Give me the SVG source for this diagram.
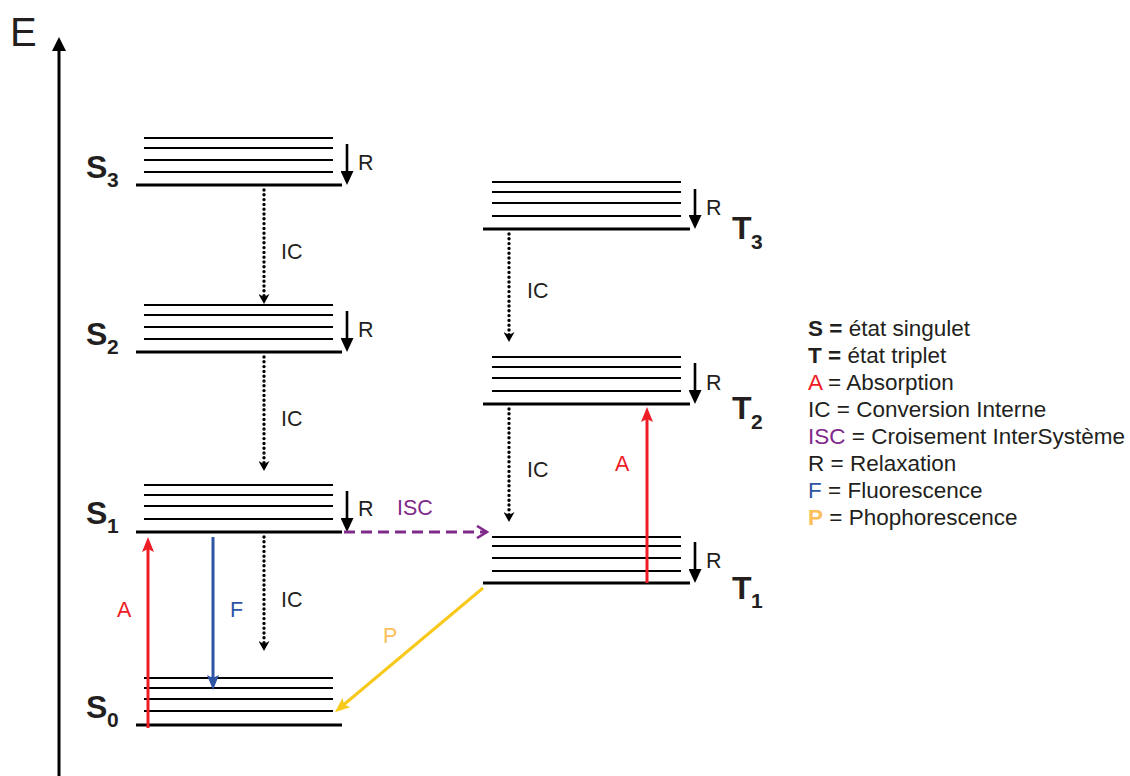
<svg xmlns="http://www.w3.org/2000/svg" width="1130" height="776" viewBox="0 0 1130 776">
<style>
text{font-family:"Liberation Sans",Arial,sans-serif;fill:#231f20}
.thin{stroke:#000;stroke-width:2}
.thick{stroke:#000;stroke-width:3.2}
.lbl{font-size:32px;font-weight:bold}
.sub{font-size:21px;font-weight:bold}
.t{font-size:21.5px}
.leg{font-size:22.5px}
.r{stroke:#000;stroke-width:2.6}
.ic{stroke:#000;stroke-width:3.4;stroke-dasharray:0 4.8;stroke-linecap:round;fill:none}
</style>
<defs>
<marker id="mR" markerUnits="userSpaceOnUse" viewBox="0 0 14 13" refX="4" refY="6.5" markerWidth="14" markerHeight="13" orient="auto"><path d="M0,0 L14,6.5 L0,13 z" fill="#000"/></marker>
<marker id="mAx" markerUnits="userSpaceOnUse" viewBox="0 0 14 14" refX="2" refY="7" markerWidth="14" markerHeight="14" orient="auto"><path d="M0,0 L14,7 L0,14 z" fill="#000"/></marker>
<marker id="mIC" markerUnits="userSpaceOnUse" viewBox="0 0 10 11" refX="3" refY="5.5" markerWidth="10" markerHeight="11" orient="auto"><path d="M0,0 L10,5.5 L0,11 L3,5.5 z" fill="#000"/></marker>
<marker id="mA" markerUnits="userSpaceOnUse" viewBox="0 0 15 12" refX="7" refY="6" markerWidth="15" markerHeight="12" orient="auto"><path d="M0,0 L15,6 L0,12 L3,6 z" fill="#ee1c25"/></marker>
<marker id="mF" markerUnits="userSpaceOnUse" viewBox="0 0 15 12" refX="7" refY="6" markerWidth="15" markerHeight="12" orient="auto"><path d="M0,0 L15,6 L0,12 L3,6 z" fill="#2e55a4"/></marker>
<marker id="mP" markerUnits="userSpaceOnUse" viewBox="0 0 15 12" refX="7" refY="6" markerWidth="15" markerHeight="12" orient="auto"><path d="M0,0 L15,6 L0,12 L3,6 z" fill="#f8c91c"/></marker>
<marker id="mISC" markerUnits="userSpaceOnUse" viewBox="-1 -1 13 14" refX="10" refY="6" markerWidth="13" markerHeight="14" orient="auto"><path d="M0,0 L10,6 L0,12" fill="none" stroke="#7f2a8a" stroke-width="2.6"/></marker>
</defs>

<g id="axis">
<text x="10" y="46" style="font-size:40px">E</text>
<line x1="59" y1="776" x2="59" y2="49" stroke="#000" stroke-width="3" marker-end="url(#mAx)"/>
</g>

<g id="S3">
<line class="thin" x1="144" y1="138" x2="333" y2="138"/>
<line class="thin" x1="144" y1="148" x2="333" y2="148"/>
<line class="thin" x1="144" y1="160" x2="333" y2="160"/>
<line class="thin" x1="144" y1="172" x2="333" y2="172"/>
<line class="thick" x1="136" y1="185" x2="342" y2="185"/>
<line class="r" x1="347" y1="144" x2="347" y2="175" marker-end="url(#mR)"/>
<text class="t" x="358" y="170">R</text>
<text class="lbl" x="86" y="178">S</text><text class="sub" x="107" y="187">3</text>
</g>

<g id="S2">
<line class="thin" x1="144" y1="305" x2="333" y2="305"/>
<line class="thin" x1="144" y1="315" x2="333" y2="315"/>
<line class="thin" x1="144" y1="327" x2="333" y2="327"/>
<line class="thin" x1="144" y1="339" x2="333" y2="339"/>
<line class="thick" x1="136" y1="352" x2="342" y2="352"/>
<line class="r" x1="347" y1="311" x2="347" y2="342" marker-end="url(#mR)"/>
<text class="t" x="358" y="337">R</text>
<text class="lbl" x="86" y="345">S</text><text class="sub" x="107" y="354">2</text>
</g>

<g id="S1">
<line class="thin" x1="144" y1="485" x2="333" y2="485"/>
<line class="thin" x1="144" y1="495" x2="333" y2="495"/>
<line class="thin" x1="144" y1="506" x2="333" y2="506"/>
<line class="thin" x1="144" y1="519" x2="333" y2="519"/>
<line class="thick" x1="136" y1="532" x2="342" y2="532"/>
<line class="r" x1="347" y1="491" x2="347" y2="522" marker-end="url(#mR)"/>
<text class="t" x="358" y="516">R</text>
<text class="lbl" x="86" y="524">S</text><text class="sub" x="107" y="533">1</text>
</g>

<g id="S0">
<line class="thin" x1="144" y1="678" x2="333" y2="678"/>
<line class="thin" x1="144" y1="688" x2="333" y2="688"/>
<line class="thin" x1="144" y1="699" x2="333" y2="699"/>
<line class="thin" x1="144" y1="711" x2="333" y2="711"/>
<line class="thick" x1="136" y1="725" x2="342" y2="725"/>
<text class="lbl" x="86" y="718">S</text><text class="sub" x="107" y="727">0</text>
</g>

<g id="T3">
<line class="thin" x1="492" y1="182" x2="681" y2="182"/>
<line class="thin" x1="492" y1="192" x2="681" y2="192"/>
<line class="thin" x1="492" y1="203" x2="681" y2="203"/>
<line class="thin" x1="492" y1="216" x2="681" y2="216"/>
<line class="thick" x1="483" y1="229" x2="690" y2="229"/>
<line class="r" x1="695" y1="189" x2="695" y2="219" marker-end="url(#mR)"/>
<text class="t" x="706" y="215">R</text>
<text class="lbl" x="732" y="239">T</text><text class="sub" x="751" y="249">3</text>
</g>

<g id="T2">
<line class="thin" x1="492" y1="357" x2="681" y2="357"/>
<line class="thin" x1="492" y1="367" x2="681" y2="367"/>
<line class="thin" x1="492" y1="378" x2="681" y2="378"/>
<line class="thin" x1="492" y1="391" x2="681" y2="391"/>
<line class="thick" x1="483" y1="404" x2="690" y2="404"/>
<line class="r" x1="695" y1="363" x2="695" y2="394" marker-end="url(#mR)"/>
<text class="t" x="706" y="390">R</text>
<text class="lbl" x="732" y="419">T</text><text class="sub" x="751" y="429">2</text>
</g>

<g id="T1">
<line class="thin" x1="492" y1="537" x2="681" y2="537"/>
<line class="thin" x1="492" y1="546" x2="681" y2="546"/>
<line class="thin" x1="492" y1="558" x2="681" y2="558"/>
<line class="thin" x1="492" y1="571" x2="681" y2="571"/>
<line class="thick" x1="483" y1="583" x2="690" y2="583"/>
<line class="r" x1="695" y1="542" x2="695" y2="573" marker-end="url(#mR)"/>
<text class="t" x="706" y="568">R</text>
<text class="lbl" x="732" y="599">T</text><text class="sub" x="751" y="608">1</text>
</g>

<g id="connectors">
<line class="ic" x1="264" y1="190" x2="264" y2="297" marker-end="url(#mIC)"/>
<text class="t" x="281" y="259">IC</text>
<line class="ic" x1="264" y1="357" x2="264" y2="464" marker-end="url(#mIC)"/>
<text class="t" x="281" y="426">IC</text>
<line class="ic" x1="264" y1="537" x2="264" y2="644" marker-end="url(#mIC)"/>
<text class="t" x="281" y="607">IC</text>
<line class="ic" x1="509" y1="234" x2="509" y2="335" marker-end="url(#mIC)"/>
<text class="t" x="527" y="298">IC</text>
<line class="ic" x1="509" y1="409" x2="509" y2="515" marker-end="url(#mIC)"/>
<text class="t" x="527" y="477">IC</text>

<line x1="344" y1="532" x2="487" y2="532" stroke="#7f2a8a" stroke-width="3" stroke-dasharray="11 6" marker-end="url(#mISC)"/>
<text class="t" x="397" y="515" style="fill:#7f2a8a">ISC</text>

<line x1="148" y1="728" x2="148" y2="545" stroke="#ee1c25" stroke-width="3" marker-end="url(#mA)"/>
<text class="t" x="117" y="617" style="fill:#ee1c25">A</text>
<line x1="647" y1="583" x2="647" y2="415" stroke="#ee1c25" stroke-width="3" marker-end="url(#mA)"/>
<text class="t" x="615" y="471" style="fill:#ee1c25">A</text>

<line x1="213" y1="537" x2="213" y2="682" stroke="#2e55a4" stroke-width="3" marker-end="url(#mF)"/>
<text class="t" x="230" y="617" style="fill:#2e55a4">F</text>

<line x1="483" y1="588" x2="341" y2="707" stroke="#f8c91c" stroke-width="3" marker-end="url(#mP)"/>
<text class="t" x="383" y="643" style="fill:#fbbf5a">P</text>
</g>

<g id="legend">
<text class="leg" x="808" y="336"><tspan font-weight="bold">S =</tspan> état singulet</text>
<text class="leg" x="808" y="363"><tspan font-weight="bold">T =</tspan> état triplet</text>
<text class="leg" x="808" y="390"><tspan style="fill:#ee1c25">A</tspan> = Absorption</text>
<text class="leg" x="808" y="417">IC = Conversion Interne</text>
<text class="leg" x="808" y="444"><tspan style="fill:#7f2a8a">ISC</tspan> = Croisement InterSystème</text>
<text class="leg" x="808" y="471">R = Relaxation</text>
<text class="leg" x="808" y="498"><tspan style="fill:#2e55a4">F</tspan> = Fluorescence</text>
<text class="leg" x="808" y="525"><tspan style="fill:#fbbf5a;font-weight:bold">P</tspan> = Phophorescence</text>
</g>
</svg>
